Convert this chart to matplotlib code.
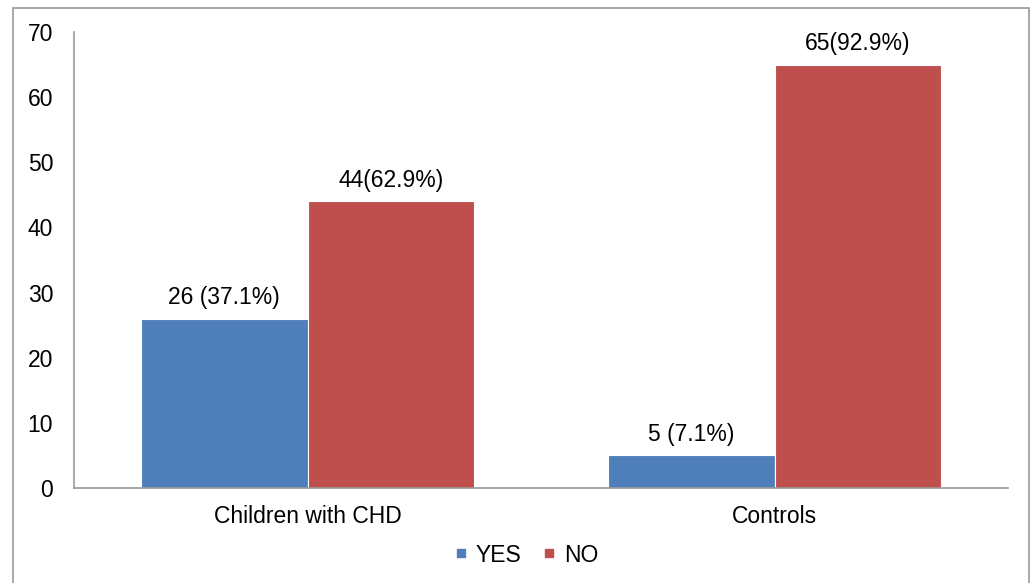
import numpy as np
import matplotlib.pyplot as plt
from matplotlib.patches import Rectangle
from matplotlib.lines import Line2D

plt.rcParams['font.family'] = ['Liberation Sans', 'DejaVu Sans']

categories = ['Children with CHD', 'Controls']
yes_vals = [26, 5]
no_vals = [44, 65]
yes_labels = ['26 (37.1%)', '5 (7.1%)']
no_labels = ['44(62.9%)', '65(92.9%)']

blue = '#4F7FBA'
red = '#BE4F4C'
fs = 16.5

fig = plt.figure(figsize=(10.32, 5.83), dpi=100)
ax = fig.add_axes([74/1032, 95/583, 934/1032, 456/583])

x = np.arange(len(categories))
w = 0.357
b1 = ax.bar(x - w/2, yes_vals, w, color=blue, edgecolor='white', linewidth=0.8, label='YES')
b2 = ax.bar(x + w/2, no_vals, w, color=red, edgecolor='white', linewidth=0.8, label='NO')

for bars, labs in ((b1, yes_labels), (b2, no_labels)):
    for r, t in zip(bars, labs):
        ax.annotate(t, (r.get_x() + r.get_width()/2, r.get_height()),
                    xytext=(0, 7), textcoords='offset points',
                    ha='center', va='bottom', fontsize=fs)

ax.set_xlim(-0.5, 1.5)
ax.set_ylim(0, 70)
ax.set_yticks(range(0, 71, 10))
ax.set_xticks(x)
ax.set_xticklabels(categories)
ax.tick_params(axis='y', length=0, pad=15, labelsize=fs)
ax.tick_params(axis='x', length=0, pad=12, labelsize=fs)
for s in ['top', 'right']:
    ax.spines[s].set_visible(False)
for s in ['left', 'bottom']:
    ax.spines[s].set_color('#9a9a9a')
    ax.spines[s].set_linewidth(1.2)

handles = [Line2D([], [], marker='s', linestyle='none', color=blue, markersize=6),
           Line2D([], [], marker='s', linestyle='none', color=red, markersize=6)]
fig.legend(handles, ['YES', 'NO'], loc='center', bbox_to_anchor=(526/1032, 1 - 555/583),
           ncol=2, frameon=False, fontsize=fs, handlelength=0.6, handletextpad=0.35,
           columnspacing=0.9)

fig.patches.append(Rectangle((13/1032, -0.01), 1016/1032, 1 - 8/583 + 0.01,
                             transform=fig.transFigure, fill=False,
                             edgecolor='#9a9a9a', linewidth=1.2))

fig.savefig('out.png', dpi=100)
